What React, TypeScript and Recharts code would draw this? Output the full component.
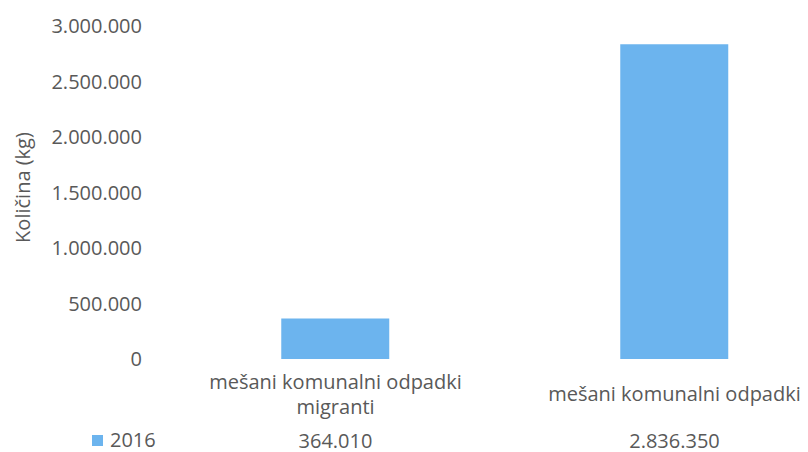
import React from "react";
import { BarChart, Bar, XAxis, YAxis } from "recharts";

const categories = ["mešani komunalni odpadki migranti", "mešani komunalni odpadki"];
const categoryLines = [["mešani komunalni odpadki", "migranti"], ["mešani komunalni odpadki"]];
const values2016 = [364010, 2836350];
const seriesName = "2016";
const yTicks = [0, 500000, 1000000, 1500000, 2000000, 2500000, 3000000];
const yLabel = "Količina (kg)";

const BAR_COLOR = "#6cb4ee";
const TEXT_COLOR = "#595959";
const FONT = "'Open Sans', 'Noto Sans', sans-serif";

const data = categories.map((c, i) => ({ name: c, v2016: values2016[i], idx: i }));

function fmt(n: number): string {
  const s = Math.round(n).toString();
  return s.replace(/\B(?=(\d{3})+(?!\d))/g, ".");
}

const CategoryTick = (props: any) => {
  const { x, y, index } = props;
  const lines = categoryLines[index] || [];
  const lineH = 25;
  const blockTop = y + 14;
  const startY = lines.length === 1 ? blockTop + lineH / 2 : blockTop;
  return (
    <g>
      {lines.map((l, i) => (
        <text
          key={i}
          x={x}
          y={startY + i * lineH}
          textAnchor="middle"
          dominantBaseline="central"
          fill={TEXT_COLOR}
          fontSize={20}
          fontFamily={FONT}
        >
          {l}
        </text>
      ))}
      <text
        x={x}
        y={y + 73}
        textAnchor="middle"
        dominantBaseline="central"
        fill={TEXT_COLOR}
        fontSize={20}
        fontFamily={FONT}
      >
        {fmt(values2016[index])}
      </text>
    </g>
  );
};

const YLabel = (props: any) => {
  const vb = props.viewBox || {};
  const cx = (vb.x || 0) + 14;
  const cy = (vb.y || 0) + (vb.height || 0) / 2 - 5;
  return (
    <text
      x={cx}
      y={cy}
      transform={`rotate(-90, ${cx}, ${cy})`}
      textAnchor="middle"
      dominantBaseline="central"
      fill={TEXT_COLOR}
      fontSize={20}
      fontFamily={FONT}
    >
      {yLabel}
    </text>
  );
};

export default function App() {
  return (
    <div style={{ width: 800, height: 444, overflow: "hidden", position: "relative", background: "#fff" }}>
      <BarChart
        width={850}
        height={444}
        data={data}
        margin={{ top: 18, right: 14, left: 0, bottom: 0 }}
        barCategoryGap="34%"
      >
        <XAxis
          dataKey="name"
          axisLine={false}
          tickLine={false}
          interval={0}
          height={93}
          tick={<CategoryTick />}
        />
        <YAxis
          width={158}
          domain={[0, 3000000]}
          ticks={yTicks}
          axisLine={false}
          tickLine={false}
          tickSize={0}
          tickMargin={24}
          tickFormatter={(v: number) => fmt(v)}
          tick={{ fill: TEXT_COLOR, fontSize: 20, fontFamily: FONT }}
          label={<YLabel />}
        />
        <Bar dataKey="v2016" name={seriesName} fill={BAR_COLOR} isAnimationActive={false} />
      </BarChart>
      <div
        style={{
          position: "absolute",
          left: 84,
          top: 419,
          display: "flex",
          alignItems: "center",
          fontFamily: FONT,
          fontSize: 20,
          color: TEXT_COLOR,
          lineHeight: "26px",
        }}
      >
        <span style={{ display: "inline-block", width: 11, height: 11, background: BAR_COLOR, marginRight: 7 }} />
        <span>{seriesName}</span>
      </div>
    </div>
  );
}
